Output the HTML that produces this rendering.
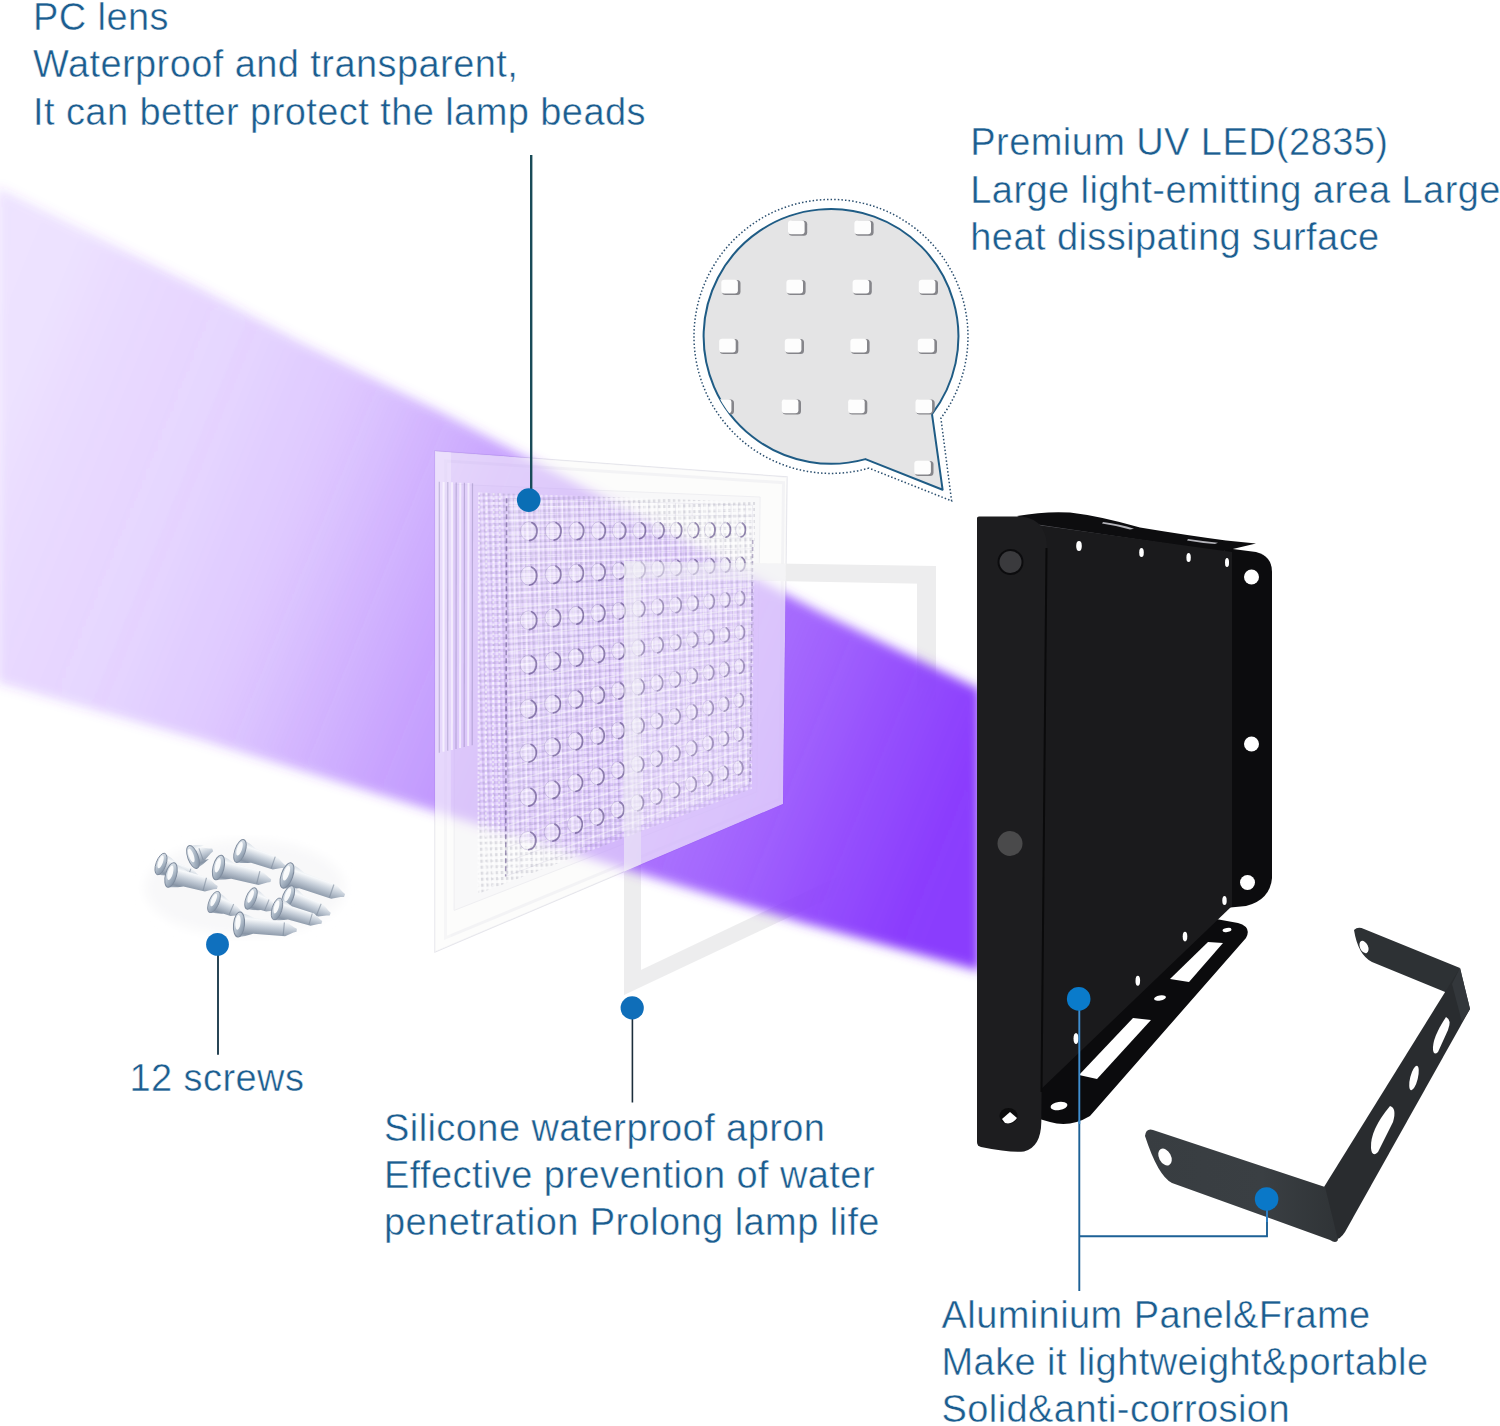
<!DOCTYPE html>
<html><head><meta charset="utf-8"><title>UV LED flood light structure</title>
<style>
html,body{margin:0;padding:0;background:#fff;}
body{width:1500px;height:1426px;position:relative;overflow:hidden;font-family:"Liberation Sans",sans-serif;}
svg{position:absolute;left:0;top:0;}
.t{position:absolute;white-space:nowrap;color:#1b5d8f;font-size:38px;line-height:47.35px;letter-spacing:0.42px;-webkit-text-stroke:0.45px #fff;}
</style></head><body>
<svg width="1500" height="1426" viewBox="0 0 1500 1426">
<defs>
<linearGradient id="beam" gradientUnits="userSpaceOnUse" x1="-97.6" y1="396.6" x2="976" y2="830">
<stop offset="0" stop-color="#8a3cfd" stop-opacity=".145"/>
<stop offset="0.0909" stop-color="#8a3cfd" stop-opacity="0.155"/>
<stop offset="0.1455" stop-color="#8a3cfd" stop-opacity="0.185"/>
<stop offset="0.2455" stop-color="#8a3cfd" stop-opacity="0.215"/>
<stop offset="0.3545" stop-color="#8a3cfd" stop-opacity="0.280"/>
<stop offset="0.4964" stop-color="#8a3cfd" stop-opacity="0.460"/>
<stop offset="0.6909" stop-color="#8a3cfd" stop-opacity="0.670"/>
<stop offset="0.8182" stop-color="#8a3cfd" stop-opacity="0.800"/>
<stop offset="0.9091" stop-color="#8a3cfd" stop-opacity="0.920"/>
<stop offset="0.9727" stop-color="#8a3cfd" stop-opacity="0.990"/>
<stop offset="1.0000" stop-color="#8a3cfd" stop-opacity="1.000"/>
</linearGradient>
<filter id="bl" x="-5%" y="-5%" width="110%" height="110%"><feGaussianBlur stdDeviation="5.4"/></filter>
<filter id="bl2"><feGaussianBlur stdDeviation="0.7"/></filter>
<linearGradient id="scb" x1="0" y1="0" x2="0" y2="1"><stop offset="0" stop-color="#d3dae2"/><stop offset=".22" stop-color="#f7f9fb"/><stop offset=".5" stop-color="#c3ccd7"/><stop offset=".85" stop-color="#8794a5"/><stop offset="1" stop-color="#aab5c2"/></linearGradient>
<linearGradient id="sch" x1="0" y1="0" x2="1" y2="1"><stop offset="0" stop-color="#f2f5f8"/><stop offset=".5" stop-color="#b5c1ce"/><stop offset="1" stop-color="#76869a"/></linearGradient>
<linearGradient id="brk" gradientUnits="userSpaceOnUse" x1="1145" y1="0" x2="1340" y2="0"><stop offset="0" stop-color="#383d41"/><stop offset=".6" stop-color="#3a3f43"/><stop offset="1" stop-color="#2f3336"/></linearGradient>
<pattern id="tex" width="5" height="6" patternUnits="userSpaceOnUse" patternTransform="rotate(-2)"><rect x="0" y="0" width="2.4" height="3" fill="rgba(120,120,140,.22)"/><rect x="2.5" y="3" width="2.4" height="3" fill="rgba(255,255,255,.5)"/></pattern>
<linearGradient id="frR" gradientUnits="userSpaceOnUse" x1="0" y1="566" x2="0" y2="857"><stop offset="0" stop-color="#ededee"/><stop offset=".36" stop-color="#ededee"/><stop offset=".5" stop-color="#ededee" stop-opacity="0"/></linearGradient>
<linearGradient id="frB" gradientUnits="userSpaceOnUse" x1="624" y1="0" x2="936" y2="0"><stop offset="0" stop-color="#ededee"/><stop offset=".58" stop-color="#ededee"/><stop offset=".74" stop-color="#ededee" stop-opacity="0"/></linearGradient>
<clipPath id="lensclip"><polygon points="435.0,451.0 787.0,477.0 783.0,804.0 435.0,952.0"/></clipPath>
<clipPath id="bubclip"><path d="M865.4 459.1 A127.4 127.4 0 1 1 932.0 414.1 L942.6 489.7 Z"/></clipPath>
</defs>

<!-- lens base -->
<g id="lensbase">
<polygon points="435.0,451.0 787.0,477.0 783.0,804.0 435.0,952.0" fill="#fcfcfd" stroke="#e6e6ec" stroke-width="1.4"/>
<polygon points="445.7,460.9 783.5,482.7 779.7,799.0 445.5,937.8" fill="none" stroke="#ebebf0" stroke-width="3"/>
<polygon points="454.4,484.3 760.1,497.0 756.8,791.9 454.1,910.4" fill="#f5f4f8" stroke="#e2e2ea" stroke-width="1"/>
</g>
<!-- silicone frame (under beam) -->
<g id="frame" fill="#ededee">
<polygon points="624,561 641,561.3 641,978 624,995"/>
<polygon points="624,561 936,566 936,584 624,578"/>
<polygon points="917,566 936,566 936,848 917,857" fill="url(#frR)"/>
<polygon points="624,995 936,848 936,830 624,978" fill="url(#frB)"/>
</g>
<!-- beam -->
<polygon points="-3,187 200,288 300,342 440,411.5 820,612 900,651 980,689.5 980,971 800,922 437,812 200,739.5 -3,682.5" fill="url(#beam)" filter="url(#bl)"/>
<!-- lens overlay -->
<g clip-path="url(#lensclip)">
<polygon points="435.0,451.0 787.0,477.0 783.0,804.0 435.0,952.0" fill="rgba(252,252,250,.5)"/>
<polygon points="508.5,498.3 752.5,505.3 749.5,784.6 507.5,875.7" fill="rgba(255,255,255,.2)"/>
<polygon points="479.0,492.6 755.1,501.9 751.9,788.8 478.4,893.8" fill="url(#tex)"/>
<polygon points="435.0,451.0 451.0,452.2 450.7,945.3 435.0,952.0" fill="rgba(255,255,255,.25)"/>
<g stroke="rgba(255,255,255,.4)" stroke-width="1.4" fill="none"><line x1="514.8" y1="498.5" x2="513.8" y2="873.4" /><line x1="527.2" y1="498.8" x2="526.0" y2="868.8" /><line x1="539.2" y1="499.2" x2="537.9" y2="864.3" /><line x1="551.0" y1="499.5" x2="549.5" y2="859.9" /><line x1="562.4" y1="499.8" x2="560.9" y2="855.7" /><line x1="573.6" y1="500.2" x2="571.9" y2="851.5" /><line x1="584.4" y1="500.5" x2="582.6" y2="847.5" /><line x1="595.0" y1="500.8" x2="593.1" y2="843.5" /><line x1="605.4" y1="501.1" x2="603.4" y2="839.6" /><line x1="615.5" y1="501.4" x2="613.4" y2="835.9" /><line x1="625.3" y1="501.7" x2="623.1" y2="832.2" /><line x1="634.9" y1="501.9" x2="632.7" y2="828.6" /><line x1="644.3" y1="502.2" x2="642.0" y2="825.1" /><line x1="653.5" y1="502.5" x2="651.1" y2="821.7" /><line x1="662.5" y1="502.7" x2="660.0" y2="818.3" /><line x1="671.2" y1="503.0" x2="668.7" y2="815.1" /><line x1="679.8" y1="503.2" x2="677.2" y2="811.9" /><line x1="688.2" y1="503.5" x2="685.5" y2="808.7" /><line x1="696.4" y1="503.7" x2="693.6" y2="805.7" /><line x1="704.4" y1="503.9" x2="701.6" y2="802.7" /><line x1="712.2" y1="504.2" x2="709.4" y2="799.7" /><line x1="719.9" y1="504.4" x2="717.0" y2="796.9" /><line x1="727.4" y1="504.6" x2="724.5" y2="794.1" /><line x1="734.8" y1="504.8" x2="731.8" y2="791.3" /><line x1="742.0" y1="505.0" x2="739.0" y2="788.6" /><line x1="749.1" y1="505.2" x2="746.0" y2="786.0" /><line x1="508.5" y1="505.6" x2="752.5" y2="510.7" /><line x1="508.4" y1="520.3" x2="752.4" y2="521.6" /><line x1="508.4" y1="535.0" x2="752.2" y2="532.4" /><line x1="508.4" y1="549.7" x2="752.1" y2="543.2" /><line x1="508.3" y1="564.3" x2="752.0" y2="554.1" /><line x1="508.3" y1="579.0" x2="751.9" y2="564.9" /><line x1="508.2" y1="593.6" x2="751.8" y2="575.7" /><line x1="508.2" y1="608.2" x2="751.6" y2="586.5" /><line x1="508.2" y1="622.8" x2="751.5" y2="597.2" /><line x1="508.1" y1="637.4" x2="751.4" y2="608.0" /><line x1="508.1" y1="651.9" x2="751.3" y2="618.8" /><line x1="508.1" y1="666.5" x2="751.2" y2="629.5" /><line x1="508.0" y1="681.0" x2="751.0" y2="640.3" /><line x1="508.0" y1="695.5" x2="750.9" y2="651.0" /><line x1="507.9" y1="710.0" x2="750.8" y2="661.8" /><line x1="507.9" y1="724.5" x2="750.7" y2="672.5" /><line x1="507.9" y1="739.0" x2="750.6" y2="683.2" /><line x1="507.8" y1="753.4" x2="750.5" y2="693.9" /><line x1="507.8" y1="767.9" x2="750.3" y2="704.6" /><line x1="507.8" y1="782.3" x2="750.2" y2="715.3" /><line x1="507.7" y1="796.7" x2="750.1" y2="726.0" /><line x1="507.7" y1="811.1" x2="750.0" y2="736.7" /><line x1="507.7" y1="825.5" x2="749.9" y2="747.4" /><line x1="507.6" y1="839.9" x2="749.7" y2="758.0" /><line x1="507.6" y1="854.2" x2="749.6" y2="768.7" /><line x1="507.5" y1="868.6" x2="749.5" y2="779.3" /></g><g stroke="rgba(95,80,140,.08)" stroke-width="1" fill="none"><line x1="508.5" y1="498.3" x2="507.5" y2="875.7" /><line x1="521.0" y1="498.6" x2="519.9" y2="871.1" /><line x1="533.3" y1="499.0" x2="532.0" y2="866.5" /><line x1="545.2" y1="499.3" x2="543.8" y2="862.1" /><line x1="556.7" y1="499.7" x2="555.2" y2="857.8" /><line x1="568.0" y1="500.0" x2="566.4" y2="853.6" /><line x1="579.0" y1="500.3" x2="577.3" y2="849.5" /><line x1="589.8" y1="500.6" x2="587.9" y2="845.5" /><line x1="600.2" y1="500.9" x2="598.3" y2="841.6" /><line x1="610.5" y1="501.2" x2="608.4" y2="837.8" /><line x1="620.4" y1="501.5" x2="618.3" y2="834.0" /><line x1="630.2" y1="501.8" x2="627.9" y2="830.4" /><line x1="639.7" y1="502.1" x2="637.3" y2="826.9" /><line x1="648.9" y1="502.3" x2="646.5" y2="823.4" /><line x1="658.0" y1="502.6" x2="655.5" y2="820.0" /><line x1="666.9" y1="502.9" x2="664.3" y2="816.7" /><line x1="675.5" y1="503.1" x2="672.9" y2="813.5" /><line x1="684.0" y1="503.3" x2="681.3" y2="810.3" /><line x1="692.3" y1="503.6" x2="689.6" y2="807.2" /><line x1="700.4" y1="503.8" x2="697.6" y2="804.2" /><line x1="708.3" y1="504.0" x2="705.5" y2="801.2" /><line x1="716.1" y1="504.3" x2="713.2" y2="798.3" /><line x1="723.7" y1="504.5" x2="720.8" y2="795.5" /><line x1="731.1" y1="504.7" x2="728.2" y2="792.7" /><line x1="738.4" y1="504.9" x2="735.4" y2="789.9" /><line x1="745.5" y1="505.1" x2="742.5" y2="787.3" /><line x1="752.5" y1="505.3" x2="749.5" y2="784.6" /><line x1="508.5" y1="498.3" x2="752.5" y2="505.3" /><line x1="508.5" y1="513.0" x2="752.4" y2="516.2" /><line x1="508.4" y1="527.7" x2="752.3" y2="527.0" /><line x1="508.4" y1="542.3" x2="752.2" y2="537.8" /><line x1="508.3" y1="557.0" x2="752.1" y2="548.7" /><line x1="508.3" y1="571.6" x2="751.9" y2="559.5" /><line x1="508.3" y1="586.3" x2="751.8" y2="570.3" /><line x1="508.2" y1="600.9" x2="751.7" y2="581.1" /><line x1="508.2" y1="615.5" x2="751.6" y2="591.9" /><line x1="508.2" y1="630.1" x2="751.5" y2="602.6" /><line x1="508.1" y1="644.6" x2="751.3" y2="613.4" /><line x1="508.1" y1="659.2" x2="751.2" y2="624.2" /><line x1="508.0" y1="673.7" x2="751.1" y2="634.9" /><line x1="508.0" y1="688.3" x2="751.0" y2="645.7" /><line x1="508.0" y1="702.8" x2="750.9" y2="656.4" /><line x1="507.9" y1="717.3" x2="750.7" y2="667.1" /><line x1="507.9" y1="731.7" x2="750.6" y2="677.9" /><line x1="507.9" y1="746.2" x2="750.5" y2="688.6" /><line x1="507.8" y1="760.7" x2="750.4" y2="699.3" /><line x1="507.8" y1="775.1" x2="750.3" y2="710.0" /><line x1="507.7" y1="789.5" x2="750.2" y2="720.7" /><line x1="507.7" y1="803.9" x2="750.0" y2="731.4" /><line x1="507.7" y1="818.3" x2="749.9" y2="742.0" /><line x1="507.6" y1="832.7" x2="749.8" y2="752.7" /><line x1="507.6" y1="847.1" x2="749.7" y2="763.4" /><line x1="507.6" y1="861.4" x2="749.6" y2="774.0" /><line x1="507.5" y1="875.7" x2="749.5" y2="784.6" /></g><g stroke="rgba(110,100,150,.32)" stroke-width="1.2" fill="none"><line x1="439.3" y1="481.7" x2="439.3" y2="752.7" /><line x1="447.8" y1="482.1" x2="447.7" y2="750.8" /><line x1="456.2" y1="482.5" x2="456.0" y2="748.9" /><line x1="464.4" y1="482.8" x2="464.2" y2="747.1" /><line x1="472.5" y1="483.2" x2="472.2" y2="745.2" /></g><g stroke="rgba(255,255,255,.6)" stroke-width="2" fill="none"><line x1="443.6" y1="481.9" x2="443.5" y2="751.8" /><line x1="452.0" y1="482.3" x2="451.9" y2="749.9" /><line x1="460.3" y1="482.7" x2="460.1" y2="748.0" /><line x1="468.5" y1="483.0" x2="468.2" y2="746.1" /></g><g stroke="rgba(255,255,255,.55)" stroke-width="2" fill="none"><line x1="479.0" y1="492.6" x2="478.4" y2="891.4" stroke-dasharray="2.5 2"/><line x1="486.4" y1="492.8" x2="485.7" y2="888.7" stroke-dasharray="2.5 2"/><line x1="493.6" y1="493.1" x2="492.8" y2="885.9" stroke-dasharray="2.5 2"/><line x1="499.8" y1="493.3" x2="498.9" y2="883.6" stroke-dasharray="2.5 2"/></g><g stroke="rgba(75,55,120,.5)" stroke-width="1.6" fill="none"><line x1="506.6" y1="498.2" x2="505.7" y2="876.4" stroke-dasharray="5 3"/><line x1="752.7" y1="540.0" x2="750.0" y2="784.5" stroke-dasharray="4 3" opacity=".7"/></g><g fill="rgba(255,255,255,.3)" stroke="rgba(110,90,160,.22)" stroke-width="1"><ellipse cx="528.9" cy="531.1" rx="8.4" ry="9.4"/><ellipse cx="553.3" cy="530.9" rx="8.0" ry="9.1"/><ellipse cx="576.5" cy="530.8" rx="7.6" ry="8.9"/><ellipse cx="598.4" cy="530.6" rx="7.2" ry="8.7"/><ellipse cx="619.3" cy="530.5" rx="6.9" ry="8.5"/><ellipse cx="639.2" cy="530.4" rx="6.5" ry="8.2"/><ellipse cx="658.1" cy="530.2" rx="6.2" ry="8.1"/><ellipse cx="676.1" cy="530.1" rx="5.9" ry="7.9"/><ellipse cx="693.3" cy="530.0" rx="5.7" ry="7.7"/><ellipse cx="709.8" cy="529.9" rx="5.4" ry="7.5"/><ellipse cx="725.6" cy="529.8" rx="5.2" ry="7.4"/><ellipse cx="740.7" cy="529.7" rx="5.0" ry="7.2"/><ellipse cx="528.8" cy="575.7" rx="8.4" ry="9.4"/><ellipse cx="553.2" cy="574.4" rx="8.0" ry="9.1"/><ellipse cx="576.3" cy="573.1" rx="7.6" ry="8.9"/><ellipse cx="598.2" cy="571.9" rx="7.2" ry="8.6"/><ellipse cx="619.0" cy="570.7" rx="6.9" ry="8.4"/><ellipse cx="638.9" cy="569.6" rx="6.5" ry="8.2"/><ellipse cx="657.8" cy="568.5" rx="6.2" ry="8.0"/><ellipse cx="675.8" cy="567.5" rx="5.9" ry="7.8"/><ellipse cx="693.0" cy="566.6" rx="5.7" ry="7.7"/><ellipse cx="709.5" cy="565.7" rx="5.4" ry="7.5"/><ellipse cx="725.2" cy="564.8" rx="5.2" ry="7.3"/><ellipse cx="740.3" cy="564.0" rx="5.0" ry="7.2"/><ellipse cx="528.6" cy="620.2" rx="8.4" ry="9.3"/><ellipse cx="553.0" cy="617.7" rx="8.0" ry="9.1"/><ellipse cx="576.1" cy="615.2" rx="7.6" ry="8.8"/><ellipse cx="598.0" cy="613.0" rx="7.2" ry="8.6"/><ellipse cx="618.8" cy="610.8" rx="6.8" ry="8.4"/><ellipse cx="638.6" cy="608.7" rx="6.5" ry="8.2"/><ellipse cx="657.5" cy="606.7" rx="6.2" ry="8.0"/><ellipse cx="675.5" cy="604.9" rx="5.9" ry="7.8"/><ellipse cx="692.7" cy="603.1" rx="5.7" ry="7.6"/><ellipse cx="709.1" cy="601.3" rx="5.4" ry="7.5"/><ellipse cx="724.9" cy="599.7" rx="5.2" ry="7.3"/><ellipse cx="739.9" cy="598.1" rx="5.0" ry="7.2"/><ellipse cx="528.5" cy="664.5" rx="8.4" ry="9.3"/><ellipse cx="552.8" cy="660.8" rx="8.0" ry="9.0"/><ellipse cx="575.9" cy="657.3" rx="7.6" ry="8.8"/><ellipse cx="597.7" cy="653.9" rx="7.2" ry="8.6"/><ellipse cx="618.5" cy="650.8" rx="6.8" ry="8.4"/><ellipse cx="638.3" cy="647.7" rx="6.5" ry="8.2"/><ellipse cx="657.2" cy="644.8" rx="6.2" ry="8.0"/><ellipse cx="675.2" cy="642.1" rx="5.9" ry="7.8"/><ellipse cx="692.4" cy="639.4" rx="5.7" ry="7.6"/><ellipse cx="708.8" cy="636.9" rx="5.4" ry="7.5"/><ellipse cx="724.5" cy="634.5" rx="5.2" ry="7.3"/><ellipse cx="739.6" cy="632.2" rx="5.0" ry="7.1"/><ellipse cx="528.3" cy="708.8" rx="8.4" ry="9.3"/><ellipse cx="552.6" cy="703.9" rx="8.0" ry="9.0"/><ellipse cx="575.6" cy="699.2" rx="7.6" ry="8.8"/><ellipse cx="597.5" cy="694.8" rx="7.2" ry="8.6"/><ellipse cx="618.3" cy="690.6" rx="6.8" ry="8.4"/><ellipse cx="638.0" cy="686.6" rx="6.5" ry="8.2"/><ellipse cx="656.9" cy="682.8" rx="6.2" ry="8.0"/><ellipse cx="674.9" cy="679.2" rx="5.9" ry="7.8"/><ellipse cx="692.0" cy="675.7" rx="5.7" ry="7.6"/><ellipse cx="708.4" cy="672.4" rx="5.4" ry="7.4"/><ellipse cx="724.2" cy="669.3" rx="5.2" ry="7.3"/><ellipse cx="739.2" cy="666.2" rx="5.0" ry="7.1"/><ellipse cx="528.2" cy="752.8" rx="8.4" ry="9.2"/><ellipse cx="552.4" cy="746.8" rx="8.0" ry="9.0"/><ellipse cx="575.4" cy="741.0" rx="7.5" ry="8.8"/><ellipse cx="597.3" cy="735.6" rx="7.2" ry="8.5"/><ellipse cx="618.0" cy="730.4" rx="6.8" ry="8.3"/><ellipse cx="637.8" cy="725.4" rx="6.5" ry="8.1"/><ellipse cx="656.6" cy="720.7" rx="6.2" ry="7.9"/><ellipse cx="674.6" cy="716.2" rx="5.9" ry="7.8"/><ellipse cx="691.7" cy="711.9" rx="5.7" ry="7.6"/><ellipse cx="708.1" cy="707.8" rx="5.4" ry="7.4"/><ellipse cx="723.8" cy="703.9" rx="5.2" ry="7.3"/><ellipse cx="738.8" cy="700.2" rx="5.0" ry="7.1"/><ellipse cx="528.1" cy="796.8" rx="8.4" ry="9.2"/><ellipse cx="552.3" cy="789.5" rx="7.9" ry="9.0"/><ellipse cx="575.2" cy="782.7" rx="7.5" ry="8.7"/><ellipse cx="597.0" cy="776.2" rx="7.2" ry="8.5"/><ellipse cx="617.8" cy="770.0" rx="6.8" ry="8.3"/><ellipse cx="637.5" cy="764.1" rx="6.5" ry="8.1"/><ellipse cx="656.3" cy="758.5" rx="6.2" ry="7.9"/><ellipse cx="674.2" cy="753.2" rx="5.9" ry="7.7"/><ellipse cx="691.4" cy="748.0" rx="5.7" ry="7.6"/><ellipse cx="707.8" cy="743.2" rx="5.4" ry="7.4"/><ellipse cx="723.5" cy="738.5" rx="5.2" ry="7.2"/><ellipse cx="738.5" cy="734.0" rx="5.0" ry="7.1"/><ellipse cx="527.9" cy="840.6" rx="8.4" ry="9.2"/><ellipse cx="552.1" cy="832.2" rx="7.9" ry="8.9"/><ellipse cx="575.0" cy="824.3" rx="7.5" ry="8.7"/><ellipse cx="596.8" cy="816.7" rx="7.2" ry="8.5"/><ellipse cx="617.5" cy="809.5" rx="6.8" ry="8.3"/><ellipse cx="637.2" cy="802.7" rx="6.5" ry="8.1"/><ellipse cx="656.0" cy="796.2" rx="6.2" ry="7.9"/><ellipse cx="673.9" cy="790.0" rx="5.9" ry="7.7"/><ellipse cx="691.1" cy="784.1" rx="5.6" ry="7.6"/><ellipse cx="707.4" cy="778.4" rx="5.4" ry="7.4"/><ellipse cx="723.1" cy="773.0" rx="5.2" ry="7.2"/><ellipse cx="738.1" cy="767.8" rx="5.0" ry="7.1"/></g><g stroke="rgba(70,50,115,.5)" stroke-width="1.8" fill="none" stroke-linecap="round"><path d="M531.9 522.6 A8.4 9.4 0 0 1 529.8 540.5"/><path d="M556.1 522.7 A8.0 9.1 0 0 1 554.1 540.1"/><path d="M579.1 522.8 A7.6 8.9 0 0 1 577.2 539.7"/><path d="M601.0 522.8 A7.2 8.7 0 0 1 599.2 539.3"/><path d="M621.7 522.9 A6.9 8.5 0 0 1 620.0 538.9"/><path d="M641.4 522.9 A6.5 8.2 0 0 1 639.8 538.6"/><path d="M660.3 523.0 A6.2 8.1 0 0 1 658.7 538.3"/><path d="M678.2 523.0 A5.9 7.9 0 0 1 676.7 538.0"/><path d="M695.3 523.1 A5.7 7.7 0 0 1 693.9 537.7"/><path d="M711.7 523.1 A5.4 7.5 0 0 1 710.4 537.4"/><path d="M727.4 523.2 A5.2 7.4 0 0 1 726.1 537.2"/><path d="M742.4 523.2 A5.0 7.2 0 0 1 741.1 536.9"/><path d="M531.7 567.3 A8.4 9.4 0 0 1 529.6 585.1"/><path d="M556.0 566.2 A8.0 9.1 0 0 1 554.0 583.5"/><path d="M578.9 565.1 A7.6 8.9 0 0 1 577.0 581.9"/><path d="M600.7 564.1 A7.2 8.6 0 0 1 598.9 580.5"/><path d="M621.4 563.1 A6.9 8.4 0 0 1 619.7 579.1"/><path d="M641.2 562.2 A6.5 8.2 0 0 1 639.5 577.8"/><path d="M660.0 561.3 A6.2 8.0 0 0 1 658.4 576.6"/><path d="M677.9 560.5 A5.9 7.8 0 0 1 676.4 575.4"/><path d="M695.0 559.7 A5.7 7.7 0 0 1 693.6 574.3"/><path d="M711.4 558.9 A5.4 7.5 0 0 1 710.0 573.2"/><path d="M727.0 558.2 A5.2 7.3 0 0 1 725.7 572.1"/><path d="M742.0 557.5 A5.0 7.2 0 0 1 740.8 571.1"/><path d="M531.6 611.8 A8.4 9.3 0 0 1 529.5 629.5"/><path d="M555.8 609.5 A8.0 9.1 0 0 1 553.8 626.7"/><path d="M578.7 607.3 A7.6 8.8 0 0 1 576.8 624.1"/><path d="M600.5 605.2 A7.2 8.6 0 0 1 598.7 621.6"/><path d="M621.2 603.2 A6.8 8.4 0 0 1 619.5 619.2"/><path d="M640.9 601.3 A6.5 8.2 0 0 1 639.3 616.9"/><path d="M659.7 599.5 A6.2 8.0 0 0 1 658.1 614.7"/><path d="M677.6 597.8 A5.9 7.8 0 0 1 676.1 612.7"/><path d="M694.7 596.2 A5.7 7.6 0 0 1 693.3 610.7"/><path d="M711.0 594.6 A5.4 7.5 0 0 1 709.7 608.8"/><path d="M726.7 593.1 A5.2 7.3 0 0 1 725.4 607.0"/><path d="M741.7 591.7 A5.0 7.2 0 0 1 740.4 605.3"/><path d="M531.4 656.2 A8.4 9.3 0 0 1 529.3 673.8"/><path d="M555.6 652.7 A8.0 9.0 0 0 1 553.6 669.9"/><path d="M578.5 649.4 A7.6 8.8 0 0 1 576.6 666.1"/><path d="M600.2 646.2 A7.2 8.6 0 0 1 598.5 662.5"/><path d="M620.9 643.2 A6.8 8.4 0 0 1 619.2 659.1"/><path d="M640.6 640.4 A6.5 8.2 0 0 1 639.0 655.9"/><path d="M659.4 637.6 A6.2 8.0 0 0 1 657.8 652.8"/><path d="M677.3 635.1 A5.9 7.8 0 0 1 675.8 649.9"/><path d="M694.3 632.6 A5.7 7.6 0 0 1 692.9 647.1"/><path d="M710.7 630.2 A5.4 7.5 0 0 1 709.3 644.4"/><path d="M726.3 628.0 A5.2 7.3 0 0 1 725.0 641.8"/><path d="M741.3 625.8 A5.0 7.1 0 0 1 740.1 639.4"/><path d="M531.3 700.4 A8.4 9.3 0 0 1 529.2 718.0"/><path d="M555.4 695.7 A8.0 9.0 0 0 1 553.4 712.9"/><path d="M578.3 691.3 A7.6 8.8 0 0 1 576.4 708.0"/><path d="M600.0 687.1 A7.2 8.6 0 0 1 598.2 703.4"/><path d="M620.7 683.1 A6.8 8.4 0 0 1 619.0 699.0"/><path d="M640.3 679.3 A6.5 8.2 0 0 1 638.7 694.8"/><path d="M659.1 675.7 A6.2 8.0 0 0 1 657.5 690.8"/><path d="M676.9 672.2 A5.9 7.8 0 0 1 675.5 687.0"/><path d="M694.0 668.9 A5.7 7.6 0 0 1 692.6 683.3"/><path d="M710.3 665.7 A5.4 7.4 0 0 1 709.0 679.9"/><path d="M726.0 662.7 A5.2 7.3 0 0 1 724.7 676.5"/><path d="M740.9 659.8 A5.0 7.1 0 0 1 739.7 673.4"/><path d="M531.1 744.5 A8.4 9.2 0 0 1 529.0 762.1"/><path d="M555.2 738.7 A8.0 9.0 0 0 1 553.2 755.8"/><path d="M578.1 733.1 A7.5 8.8 0 0 1 576.2 749.8"/><path d="M599.8 727.9 A7.2 8.5 0 0 1 598.0 744.1"/><path d="M620.4 722.9 A6.8 8.3 0 0 1 618.7 738.7"/><path d="M640.0 718.1 A6.5 8.1 0 0 1 638.4 733.6"/><path d="M658.8 713.6 A6.2 7.9 0 0 1 657.2 728.7"/><path d="M676.6 709.2 A5.9 7.8 0 0 1 675.1 724.0"/><path d="M693.7 705.1 A5.7 7.6 0 0 1 692.3 719.5"/><path d="M710.0 701.2 A5.4 7.4 0 0 1 708.6 715.3"/><path d="M725.6 697.4 A5.2 7.3 0 0 1 724.3 711.2"/><path d="M740.6 693.8 A5.0 7.1 0 0 1 739.3 707.3"/><path d="M531.0 788.5 A8.4 9.2 0 0 1 528.9 806.0"/><path d="M555.1 781.5 A7.9 9.0 0 0 1 553.1 798.5"/><path d="M577.9 774.8 A7.5 8.7 0 0 1 576.0 791.4"/><path d="M599.5 768.5 A7.2 8.5 0 0 1 597.8 784.7"/><path d="M620.2 762.5 A6.8 8.3 0 0 1 618.4 778.3"/><path d="M639.8 756.8 A6.5 8.1 0 0 1 638.1 772.2"/><path d="M658.5 751.4 A6.2 7.9 0 0 1 656.9 766.4"/><path d="M676.3 746.2 A5.9 7.7 0 0 1 674.8 760.9"/><path d="M693.4 741.2 A5.7 7.6 0 0 1 691.9 755.6"/><path d="M709.7 736.5 A5.4 7.4 0 0 1 708.3 750.6"/><path d="M725.3 732.0 A5.2 7.2 0 0 1 724.0 745.7"/><path d="M740.2 727.6 A5.0 7.1 0 0 1 739.0 741.1"/><path d="M530.8 832.3 A8.4 9.2 0 0 1 528.8 849.7"/><path d="M554.9 824.1 A7.9 8.9 0 0 1 552.9 841.1"/><path d="M577.7 816.4 A7.5 8.7 0 0 1 575.8 833.0"/><path d="M599.3 809.1 A7.2 8.5 0 0 1 597.5 825.2"/><path d="M619.9 802.1 A6.8 8.3 0 0 1 618.2 817.8"/><path d="M639.5 795.4 A6.5 8.1 0 0 1 637.9 810.8"/><path d="M658.2 789.1 A6.2 7.9 0 0 1 656.6 804.1"/><path d="M676.0 783.0 A5.9 7.7 0 0 1 674.5 797.7"/><path d="M693.0 777.3 A5.6 7.6 0 0 1 691.6 791.6"/><path d="M709.3 771.7 A5.4 7.4 0 0 1 708.0 785.8"/><path d="M724.9 766.5 A5.2 7.2 0 0 1 723.6 780.2"/><path d="M739.9 761.4 A5.0 7.1 0 0 1 738.6 774.8"/></g>
<polygon points="624,561 800,564 800,910 624,995" fill="rgba(255,255,255,.22)"/>
<polygon points="624,561 641,561.3 641,978 624,995" fill="rgba(240,240,246,.42)"/>
<polygon points="624,561 800,564 800,581 624,578" fill="rgba(240,240,246,.42)"/>
</g>

<!-- speech bubble -->
<g id="bubble">
<path d="M865.4 459.1 A127.4 127.4 0 1 1 932.0 414.1 L942.6 489.7 Z" fill="#e4e4e5" stroke="#1f5c85" stroke-width="2" stroke-linejoin="round"/>
<g clip-path="url(#bubclip)"><g transform="translate(797.2 227.7)"><rect x="-8.5" y="-7" width="18.5" height="15" rx="3.5" fill="#85858a"/><rect x="-9.2" y="-7.3" width="16.6" height="13.9" rx="3" fill="#fdfdfd"/></g><g transform="translate(863.6 227.7)"><rect x="-8.5" y="-7" width="18.5" height="15" rx="3.5" fill="#85858a"/><rect x="-9.2" y="-7.3" width="16.6" height="13.9" rx="3" fill="#fdfdfd"/></g><g transform="translate(730.5 287.0)"><rect x="-8.5" y="-7" width="18.5" height="15" rx="3.5" fill="#85858a"/><rect x="-9.2" y="-7.3" width="16.6" height="13.9" rx="3" fill="#fdfdfd"/></g><g transform="translate(795.6 287.0)"><rect x="-8.5" y="-7" width="18.5" height="15" rx="3.5" fill="#85858a"/><rect x="-9.2" y="-7.3" width="16.6" height="13.9" rx="3" fill="#fdfdfd"/></g><g transform="translate(861.8 287.0)"><rect x="-8.5" y="-7" width="18.5" height="15" rx="3.5" fill="#85858a"/><rect x="-9.2" y="-7.3" width="16.6" height="13.9" rx="3" fill="#fdfdfd"/></g><g transform="translate(928.0 287.0)"><rect x="-8.5" y="-7" width="18.5" height="15" rx="3.5" fill="#85858a"/><rect x="-9.2" y="-7.3" width="16.6" height="13.9" rx="3" fill="#fdfdfd"/></g><g transform="translate(728.3 346.0)"><rect x="-8.5" y="-7" width="18.5" height="15" rx="3.5" fill="#85858a"/><rect x="-9.2" y="-7.3" width="16.6" height="13.9" rx="3" fill="#fdfdfd"/></g><g transform="translate(794.0 346.0)"><rect x="-8.5" y="-7" width="18.5" height="15" rx="3.5" fill="#85858a"/><rect x="-9.2" y="-7.3" width="16.6" height="13.9" rx="3" fill="#fdfdfd"/></g><g transform="translate(859.6 346.0)"><rect x="-8.5" y="-7" width="18.5" height="15" rx="3.5" fill="#85858a"/><rect x="-9.2" y="-7.3" width="16.6" height="13.9" rx="3" fill="#fdfdfd"/></g><g transform="translate(927.0 346.0)"><rect x="-8.5" y="-7" width="18.5" height="15" rx="3.5" fill="#85858a"/><rect x="-9.2" y="-7.3" width="16.6" height="13.9" rx="3" fill="#fdfdfd"/></g><g transform="translate(724.0 406.6)"><rect x="-8.5" y="-7" width="18.5" height="15" rx="3.5" fill="#85858a"/><rect x="-9.2" y="-7.3" width="16.6" height="13.9" rx="3" fill="#fdfdfd"/></g><g transform="translate(791.0 406.6)"><rect x="-8.5" y="-7" width="18.5" height="15" rx="3.5" fill="#85858a"/><rect x="-9.2" y="-7.3" width="16.6" height="13.9" rx="3" fill="#fdfdfd"/></g><g transform="translate(857.3 406.6)"><rect x="-8.5" y="-7" width="18.5" height="15" rx="3.5" fill="#85858a"/><rect x="-9.2" y="-7.3" width="16.6" height="13.9" rx="3" fill="#fdfdfd"/></g><g transform="translate(924.7 406.6)"><rect x="-8.5" y="-7" width="18.5" height="15" rx="3.5" fill="#85858a"/><rect x="-9.2" y="-7.3" width="16.6" height="13.9" rx="3" fill="#fdfdfd"/></g><g transform="translate(923.5 468.0)"><rect x="-8.5" y="-7" width="18.5" height="15" rx="3.5" fill="#85858a"/><rect x="-9.2" y="-7.3" width="16.6" height="13.9" rx="3" fill="#fdfdfd"/></g></g>
<path d="M868.8 468.1 A137.0 137.0 0 1 1 940.9 418.2 L951.6 500.9 Z" fill="none" stroke="#2a4e6e" stroke-width="1.5" stroke-dasharray="1.5 2.1"/>
</g>

<!-- housing -->
<g id="housing">
<!-- bottom plate -->
<path d="M1036 1092 L1216 919 L1238 923 Q1252 927 1246 938 L1090 1116 Q1070 1128 1050 1122 L1036 1118Z" fill="#0b0b0d"/>
<polygon points="1170,979 1208,942 1223,943 1189,982" fill="#fff"/>
<polygon points="1079,1075 1133,1018 1151,1020 1097,1079" fill="#fff"/>
<ellipse cx="1160" cy="998" rx="6" ry="2.6" fill="#fff" transform="rotate(-10 1160 998)"/>
<ellipse cx="1227" cy="930" rx="4.5" ry="2" fill="#fff" transform="rotate(-10 1227 930)"/>
<ellipse cx="1059" cy="1106" rx="8.5" ry="4" fill="#fff" transform="rotate(-8 1059 1106)"/>
<!-- back flange -->
<path d="M1225 548 L1256 552 Q1272 556 1272 572 L1272 878 Q1270 900 1246 906 L1225 908Z" fill="#0c0c0e"/>
<circle cx="1251.5" cy="577" r="7.5" fill="#fff"/><circle cx="1251.5" cy="744" r="7.5" fill="#fff"/><circle cx="1247.5" cy="882.5" r="7.5" fill="#fff"/>
<!-- top plate -->
<path d="M1017 516 Q1045 511 1070 512.5 Q1100 516 1140 527.5 Q1185 535 1226 540.5 L1256 543.5 L1218 552.5 L1034 524.5Z" fill="#0d0d0f"/>
<path d="M1103 522 Q1120 524 1134 528.8 L1130 529.5 Q1116 525.5 1102 523.5Z" fill="#b4b4ba"/>
<path d="M1188 539 Q1204 541.3 1218 542.8 L1215 544 Q1200 543 1187 540.6Z" fill="#b4b4ba"/>
<path d="M1036 525 L1218 552" stroke="#5a5a60" stroke-width="1.4" fill="none"/>
<!-- side panel -->
<polygon points="1030,524 1232,552 1232,906 1036,1094" fill="#1a1a1c"/>
<ellipse cx="1079" cy="546" rx="2.8" ry="5" fill="#fff"/><ellipse cx="1141.5" cy="552.5" rx="2.3" ry="4.6" fill="#fff"/><ellipse cx="1188.6" cy="557.5" rx="2.2" ry="4.6" fill="#fff"/><ellipse cx="1227" cy="562.5" rx="2" ry="4.6" fill="#fff"/>
<ellipse cx="1224.5" cy="900.5" rx="2.2" ry="4.5" fill="#fff"/><ellipse cx="1185" cy="936.6" rx="2.3" ry="4.8" fill="#fff"/><ellipse cx="1137.8" cy="980.8" rx="2.3" ry="5" fill="#fff"/><ellipse cx="1076" cy="1038.5" rx="2.5" ry="5.5" fill="#fff"/>
<!-- front bezel -->
<path d="M977 518 Q977 516.5 979 516.5 L1022 516.5 Q1047 520 1047 548 L1041.3 1122 Q1041 1147 1024 1151.5 Q1010 1153 981 1147 Q977 1146 977 1142Z" fill="#1d1d1f"/>
<path d="M1046.5 548 L1041.5 1092" stroke="#0a0a0b" stroke-width="2" fill="none"/>
<circle cx="1010.5" cy="562" r="13" fill="#0c0c0e"/><circle cx="1010.5" cy="562" r="11" fill="#3a3a3d"/>
<circle cx="1010" cy="843.5" r="12.5" fill="#4a4a4b"/>
<ellipse cx="1008.5" cy="1116" rx="9" ry="8" fill="#0c0c0d"/><path d="M1002 1119 L1010 1112 L1017 1118 Q1012 1125 1005 1123Z" fill="#fff"/>
</g>

<!-- bracket -->
<g id="bracket">
<path d="M1354 930 Q1358 926 1364 929 L1460 968 L1450 994 L1372 962 Q1358 955 1354 930Z" fill="#2d3134"/>
<ellipse cx="1364" cy="947" rx="4" ry="6.5" fill="#fff" transform="rotate(-25 1364 947)"/>
<path d="M1460 968 L1470 1009 L1345 1232 Q1338 1243 1330 1238 L1324 1187Z" fill="#292c2f"/>
<path d="M1460 968 L1470 1009 L1462 1022 L1452 984Z" fill="#33373b"/>
<path d="M1446 1017 Q1452 1020 1448 1030 L1438 1052 Q1434 1056 1433 1050 Q1432 1038 1446 1017Z" fill="#fff"/>
<ellipse cx="1414" cy="1078" rx="3.8" ry="12.5" fill="#fff" transform="rotate(14 1414 1078)"/>
<path d="M1390 1106 Q1397 1108 1393 1122 L1378 1152 Q1372 1158 1371 1148 Q1370 1130 1390 1106Z" fill="#fff"/>
<path d="M1145 1136 Q1146 1128 1153 1130 L1325 1187 L1338 1240 Q1336 1244 1330 1240 L1172 1183 Q1158 1176 1145 1136Z" fill="url(#brk)"/>
<ellipse cx="1165" cy="1157" rx="6" ry="9" fill="#fff" transform="rotate(-28 1165 1157)"/>
</g>

<!-- screws -->
<ellipse cx="245" cy="888" rx="100" ry="48" fill="#f8f8f9" filter="url(#bl)"/><g id="screws" filter="url(#bl2)"><g transform="translate(161.0 864.0) rotate(20.0) scale(0.90)"><path d="M1 -12 Q8 -11 15 -7.6 L35 -7 L43 -2.6 L46 -1.4 L46 1.6 L43 2.8 L35 7.2 L15 7.8 Q8 11 1 12.4Z" fill="url(#scb)"/><path d="M33 -6.5 L33 6.8" stroke="#7d8a9b" stroke-width="1.2" opacity=".6"/><ellipse cx="0" cy="0" rx="5.5" ry="12.6" fill="url(#sch)" stroke="#7f8c9e" stroke-width="1"/><ellipse cx="-1.2" cy="-2" rx="2.6" ry="7.5" fill="#ffffff" opacity=".9"/></g><g transform="translate(193.0 857.0) rotate(-20.0) scale(0.95)"><path d="M1 -12 Q8 -11 15 -7.6 L11 -7 L19 -2.6 L22 -1.4 L22 1.6 L19 2.8 L11 7.2 L15 7.8 Q8 11 1 12.4Z" fill="url(#scb)"/><path d="M9 -6.5 L9 6.8" stroke="#7d8a9b" stroke-width="1.2" opacity=".6"/><ellipse cx="0" cy="0" rx="5.5" ry="12.6" fill="url(#sch)" stroke="#7f8c9e" stroke-width="1"/><ellipse cx="-1.2" cy="-2" rx="2.6" ry="7.5" fill="#ffffff" opacity=".9"/></g><g transform="translate(240.0 851.0) rotate(19.0) scale(0.95)"><path d="M1 -12 Q8 -11 15 -7.6 L39 -7 L47 -2.6 L50 -1.4 L50 1.6 L47 2.8 L39 7.2 L15 7.8 Q8 11 1 12.4Z" fill="url(#scb)"/><path d="M37 -6.5 L37 6.8" stroke="#7d8a9b" stroke-width="1.2" opacity=".6"/><ellipse cx="0" cy="0" rx="5.5" ry="12.6" fill="url(#sch)" stroke="#7f8c9e" stroke-width="1"/><ellipse cx="-1.2" cy="-2" rx="2.6" ry="7.5" fill="#ffffff" opacity=".9"/></g><g transform="translate(171.0 875.0) rotate(15.0) scale(1.00)"><path d="M1 -12 Q8 -11 15 -7.6 L37 -7 L45 -2.6 L48 -1.4 L48 1.6 L45 2.8 L37 7.2 L15 7.8 Q8 11 1 12.4Z" fill="url(#scb)"/><path d="M35 -6.5 L35 6.8" stroke="#7d8a9b" stroke-width="1.2" opacity=".6"/><ellipse cx="0" cy="0" rx="5.5" ry="12.6" fill="url(#sch)" stroke="#7f8c9e" stroke-width="1"/><ellipse cx="-1.2" cy="-2" rx="2.6" ry="7.5" fill="#ffffff" opacity=".9"/></g><g transform="translate(218.5 867.5) rotate(14.0) scale(1.00)"><path d="M1 -12 Q8 -11 15 -7.6 L43 -7 L51 -2.6 L54 -1.4 L54 1.6 L51 2.8 L43 7.2 L15 7.8 Q8 11 1 12.4Z" fill="url(#scb)"/><path d="M41 -6.5 L41 6.8" stroke="#7d8a9b" stroke-width="1.2" opacity=".6"/><ellipse cx="0" cy="0" rx="5.5" ry="12.6" fill="url(#sch)" stroke="#7f8c9e" stroke-width="1"/><ellipse cx="-1.2" cy="-2" rx="2.6" ry="7.5" fill="#ffffff" opacity=".9"/></g><g transform="translate(287.0 875.5) rotate(19.0) scale(1.05)"><path d="M1 -12 Q8 -11 15 -7.6 L47 -7 L55 -2.6 L58 -1.4 L58 1.6 L55 2.8 L47 7.2 L15 7.8 Q8 11 1 12.4Z" fill="url(#scb)"/><path d="M45 -6.5 L45 6.8" stroke="#7d8a9b" stroke-width="1.2" opacity=".6"/><ellipse cx="0" cy="0" rx="5.5" ry="12.6" fill="url(#sch)" stroke="#7f8c9e" stroke-width="1"/><ellipse cx="-1.2" cy="-2" rx="2.6" ry="7.5" fill="#ffffff" opacity=".9"/></g><g transform="translate(214.0 902.0) rotate(23.0) scale(0.90)"><path d="M1 -12 Q8 -11 15 -7.6 L23 -7 L31 -2.6 L34 -1.4 L34 1.6 L31 2.8 L23 7.2 L15 7.8 Q8 11 1 12.4Z" fill="url(#scb)"/><path d="M21 -6.5 L21 6.8" stroke="#7d8a9b" stroke-width="1.2" opacity=".6"/><ellipse cx="0" cy="0" rx="5.5" ry="12.6" fill="url(#sch)" stroke="#7f8c9e" stroke-width="1"/><ellipse cx="-1.2" cy="-2" rx="2.6" ry="7.5" fill="#ffffff" opacity=".9"/></g><g transform="translate(251.0 898.5) rotate(22.0) scale(0.90)"><path d="M1 -12 Q8 -11 15 -7.6 L21 -7 L29 -2.6 L32 -1.4 L32 1.6 L29 2.8 L21 7.2 L15 7.8 Q8 11 1 12.4Z" fill="url(#scb)"/><path d="M19 -6.5 L19 6.8" stroke="#7d8a9b" stroke-width="1.2" opacity=".6"/><ellipse cx="0" cy="0" rx="5.5" ry="12.6" fill="url(#sch)" stroke="#7f8c9e" stroke-width="1"/><ellipse cx="-1.2" cy="-2" rx="2.6" ry="7.5" fill="#ffffff" opacity=".9"/></g><g transform="translate(288.0 897.0) rotate(22.0) scale(0.95)"><path d="M1 -12 Q8 -11 15 -7.6 L37 -7 L45 -2.6 L48 -1.4 L48 1.6 L45 2.8 L37 7.2 L15 7.8 Q8 11 1 12.4Z" fill="url(#scb)"/><path d="M35 -6.5 L35 6.8" stroke="#7d8a9b" stroke-width="1.2" opacity=".6"/><ellipse cx="0" cy="0" rx="5.5" ry="12.6" fill="url(#sch)" stroke="#7f8c9e" stroke-width="1"/><ellipse cx="-1.2" cy="-2" rx="2.6" ry="7.5" fill="#ffffff" opacity=".9"/></g><g transform="translate(277.0 909.0) rotate(16.5) scale(0.90)"><path d="M1 -12 Q8 -11 15 -7.6 L41 -7 L49 -2.6 L52 -1.4 L52 1.6 L49 2.8 L41 7.2 L15 7.8 Q8 11 1 12.4Z" fill="url(#scb)"/><path d="M39 -6.5 L39 6.8" stroke="#7d8a9b" stroke-width="1.2" opacity=".6"/><ellipse cx="0" cy="0" rx="5.5" ry="12.6" fill="url(#sch)" stroke="#7f8c9e" stroke-width="1"/><ellipse cx="-1.2" cy="-2" rx="2.6" ry="7.5" fill="#ffffff" opacity=".9"/></g><g transform="translate(239.0 924.5) rotate(5.5) scale(1.00)"><path d="M1 -12 Q8 -11 15 -7.6 L47 -7 L55 -2.6 L58 -1.4 L58 1.6 L55 2.8 L47 7.2 L15 7.8 Q8 11 1 12.4Z" fill="url(#scb)"/><path d="M45 -6.5 L45 6.8" stroke="#7d8a9b" stroke-width="1.2" opacity=".6"/><ellipse cx="0" cy="0" rx="5.5" ry="12.6" fill="url(#sch)" stroke="#7f8c9e" stroke-width="1"/><ellipse cx="-1.2" cy="-2" rx="2.6" ry="7.5" fill="#ffffff" opacity=".9"/></g></g>

<!-- leader lines and dots -->
<g fill="none">
<line x1="531.2" y1="155" x2="531.2" y2="500" stroke="#194b58" stroke-width="2.4"/>
<line x1="218" y1="944" x2="218" y2="1054.8" stroke="#1e3c4d" stroke-width="1.9"/>
<line x1="632.4" y1="1008" x2="632.4" y2="1102.5" stroke="#1c2e3c" stroke-width="1.6"/>
</g>
<g stroke="#1d6196" stroke-width="1.9" fill="none">
<path d="M1079.3 1120 V1291 M1079.3 1236.3 H1267 V1199"/>
<path d="M1079.3 999 V1124" stroke="#3f8ed0"/>
<path d="M1267 1199 V1222" stroke="#2f7fc4"/>
</g>
<circle cx="528.7" cy="500.1" r="11.8" fill="#0a6eb5"/>
<circle cx="217.5" cy="944.4" r="11.4" fill="#0f70be"/>
<circle cx="632.2" cy="1007.9" r="11.6" fill="#0f6eb9"/>
<circle cx="1078.7" cy="998.9" r="11.8" fill="#0a7bcb"/>
<circle cx="1266.6" cy="1199" r="11.8" fill="#0a78c8"/>
</svg>

<div class="t" style="left:33px;top:-6.1px">PC lens<br>Waterproof and transparent,<br>It can better protect the lamp beads</div>
<div class="t" style="left:970.3px;top:119.2px">Premium UV LED(2835)<br>Large light-emitting area Large<br>heat dissipating surface</div>
<div class="t" style="left:129.5px;top:1055px">12 screws</div>
<div class="t" style="left:384px;top:1104.8px">Silicone waterproof apron<br>Effective prevention of water<br>penetration Prolong lamp life</div>
<div class="t" style="left:941.5px;top:1291.8px">Aluminium Panel&amp;Frame<br>Make it lightweight&amp;portable<br>Solid&amp;anti-corrosion</div>
</body></html>
